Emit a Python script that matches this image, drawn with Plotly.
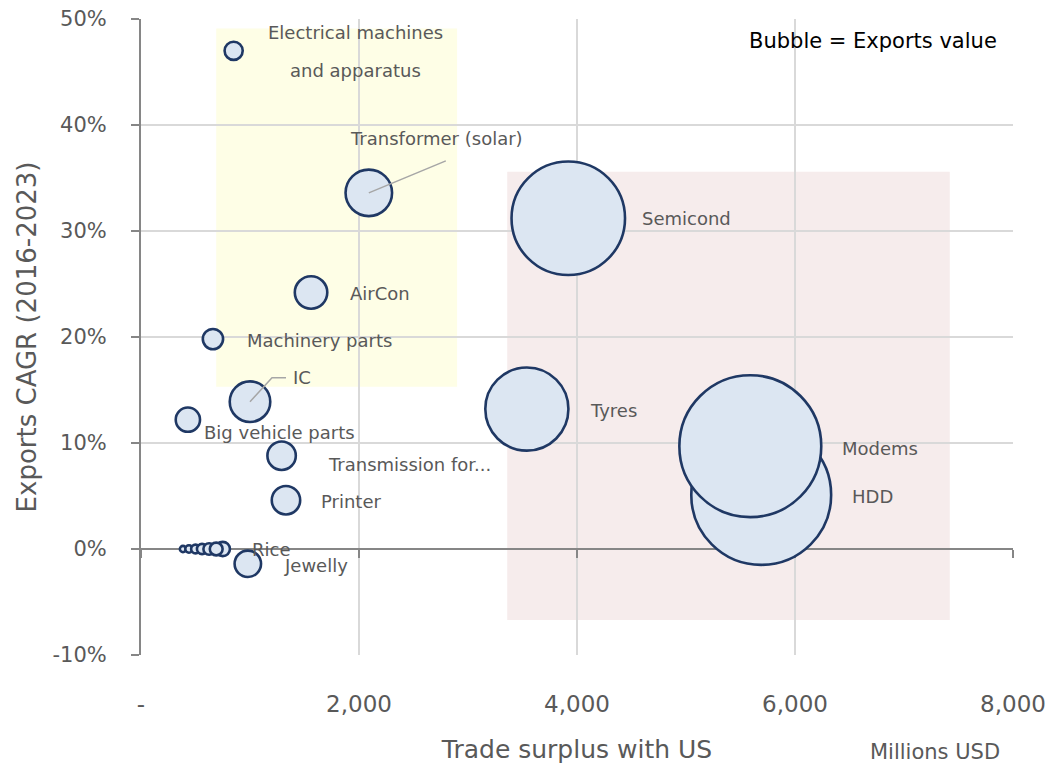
import plotly.graph_objects as go

# Export products: trade surplus with the US, export growth and export value
products = [
    "Electrical machines<br>and apparatus", "Transformer (solar)", "Semicond", "AirCon",
    "Machinery parts", "IC", "Big vehicle parts", "Tyres", "HDD", "Modems",
    "Transmission for...", "Printer", "Rice", "Jewelly",
    "", "", "", "", "", "",
]
surplus_musd = [850, 2090, 3920, 1560, 660, 1000, 430, 3540, 5690, 5590,
                1290, 1330, 750, 980,
                385, 440, 500, 560, 625, 690]
cagr_pct = [47.0, 33.6, 31.2, 24.2, 19.8, 13.9, 12.2, 13.2, 5.1, 9.7,
            8.8, 4.6, 0.0, -1.4,
            0.0, 0.0, 0.0, 0.0, 0.0, 0.0]
exports_musd = [120, 790, 4700, 385, 150, 600, 215, 2520, 7140, 7350,
                295, 295, 75, 255,
                14, 20, 28, 38, 48, 60]

x_ticks = [0, 2000, 4000, 6000, 8000]
x_tick_text = ["-", "2,000", "4,000", "6,000", "8,000"]
y_ticks = [-10, 0, 10, 20, 30, 40, 50]
y_tick_text = ["-10%", "0%", "10%", "20%", "30%", "40%", "50%"]

# Label placement per product: (dx px, dy px, anchor)
label_style = {
    "Transformer (solar)": (68, 54, "center"),
    "Semicond": (72, 0, "left"),
    "AirCon": (37, -1, "left"),
    "Machinery parts": (32, -1, "left"),
    "IC": (41, 24, "left"),
    "Big vehicle parts": (14, -13, "left"),
    "Tyres": (61, -1, "left"),
    "HDD": (89, -2, "left"),
    "Modems": (90, -2, "left"),
    "Transmission for...": (44, -9, "left"),
    "Printer": (33, -1, "left"),
    "Rice": (27, 0, "left"),
    "Jewelly": (34, -2, "left"),
}

FONT = "DejaVu Sans"
GREY_TXT = "#595959"
AXIS_GREY = "#868686"
GRID = "#D9D9D9"

fig = go.Figure()

fig.add_trace(go.Scatter(
    x=surplus_musd, y=cagr_pct, mode="markers",
    marker=dict(size=exports_musd, sizemode="area", sizeref=0.73,
                color="#DCE6F2", opacity=1,
                line=dict(color="#1F3864", width=2.6)),
    text=[p.replace("<br>", " ") for p in products],
    hoverinfo="text", showlegend=False,
))

# helper trace so the crossing axis at 0% is drawn
fig.add_trace(go.Scatter(x=[0], y=[0], xaxis="x2", mode="markers",
                         marker=dict(opacity=0), hoverinfo="skip", showlegend=False))

annotations = []
for name, xv, yv in zip(products, surplus_musd, cagr_pct):
    if name in label_style:
        dx, dy, anchor = label_style[name]
        annotations.append(dict(x=xv, y=yv, xref="x", yref="y", text=name,
                                showarrow=False, xshift=dx, yshift=dy,
                                xanchor=anchor, yanchor="middle",
                                font=dict(family=FONT, size=18, color=GREY_TXT)))
    elif name.startswith("Electrical"):
        line1, line2 = name.split("<br>")
        for txt, dy in ((line1, 18), (line2, -20)):
            annotations.append(dict(x=xv, y=yv, xref="x", yref="y", text=txt,
                                    showarrow=False, xshift=122, yshift=dy,
                                    xanchor="center", yanchor="middle",
                                    font=dict(family=FONT, size=18, color=GREY_TXT)))

annotations.append(dict(x=0.984, y=0.966, xref="paper", yref="paper",
                        text="Bubble = Exports value", showarrow=False,
                        xanchor="right", yanchor="middle",
                        font=dict(family=FONT, size=21, color="#000000")))
annotations.append(dict(x=0.911, y=-0.153, xref="paper", yref="paper",
                        text="Millions USD", showarrow=False,
                        xanchor="center", yanchor="middle",
                        font=dict(family=FONT, size=21, color=GREY_TXT)))

shapes = [
    # highlighted regions
    dict(type="rect", xref="x", yref="y", x0=690, x1=2900, y0=15.3, y1=49.1,
         fillcolor="#FEFEE6", line=dict(width=0), layer="below"),
    dict(type="rect", xref="x", yref="y", x0=3360, x1=7420, y0=-6.7, y1=35.6,
         fillcolor="#F6ECEC", line=dict(width=0), layer="below"),
]
# leader lines
idx_tr = products.index("Transformer (solar)")
shapes.append(dict(type="line", xref="x", yref="y", xsizemode="pixel", ysizemode="pixel",
                   xanchor=surplus_musd[idx_tr], yanchor=cagr_pct[idx_tr],
                   x0=0, y0=0, x1=77, y1=32, line=dict(color="#A6A6A6", width=1.5)))
idx_ic = products.index("IC")
shapes.append(dict(type="path", xref="x", yref="y", xsizemode="pixel", ysizemode="pixel",
                   xanchor=surplus_musd[idx_ic], yanchor=cagr_pct[idx_ic],
                   path="M 0 0 L 22 24 L 36 24", line=dict(color="#A6A6A6", width=1.5)))

fig.update_layout(
    width=1052, height=772,
    margin=dict(l=141, r=39, t=19, b=117),
    paper_bgcolor="white", plot_bgcolor="rgba(0,0,0,0)",
    font=dict(family=FONT, color=GREY_TXT),
    annotations=annotations, shapes=shapes,
    xaxis=dict(range=[0, 8000], tickvals=x_ticks, ticktext=x_tick_text,
               automargin=False,
               showgrid=True, gridcolor=GRID, gridwidth=1.5,
               zeroline=False, showline=False, ticks="",
               ticklabelstandoff=33,
               tickfont=dict(family=FONT, size=23, color=GREY_TXT),
               title=dict(text="Trade surplus with US", standoff=24,
                          font=dict(family=FONT, size=25, color=GREY_TXT))),
    xaxis2=dict(range=[0, 8000], overlaying="x", anchor="free", position=1/6,
                automargin=False,
                side="bottom", showline=True, linecolor=AXIS_GREY, linewidth=2,
                ticks="outside", ticklen=8, tickwidth=1.5, tickcolor=AXIS_GREY,
                tickvals=x_ticks, showticklabels=False, showgrid=False,
                zeroline=False, layer="below traces"),
    yaxis=dict(range=[-10, 50], tickvals=y_ticks, ticktext=y_tick_text,
               automargin=False,
               showgrid=True, gridcolor=GRID, gridwidth=1.5, zeroline=False,
               showline=True, linecolor=AXIS_GREY, linewidth=2,
               ticks="outside", ticklen=8, tickwidth=1.5, tickcolor=AXIS_GREY,
               ticklabelstandoff=20, layer="below traces",
               tickfont=dict(family=FONT, size=21, color=GREY_TXT),
               title=dict(text="Exports CAGR (2016-2023)", standoff=8,
                          font=dict(family=FONT, size=26, color=GREY_TXT))),
)

fig.write_html("out.html")
